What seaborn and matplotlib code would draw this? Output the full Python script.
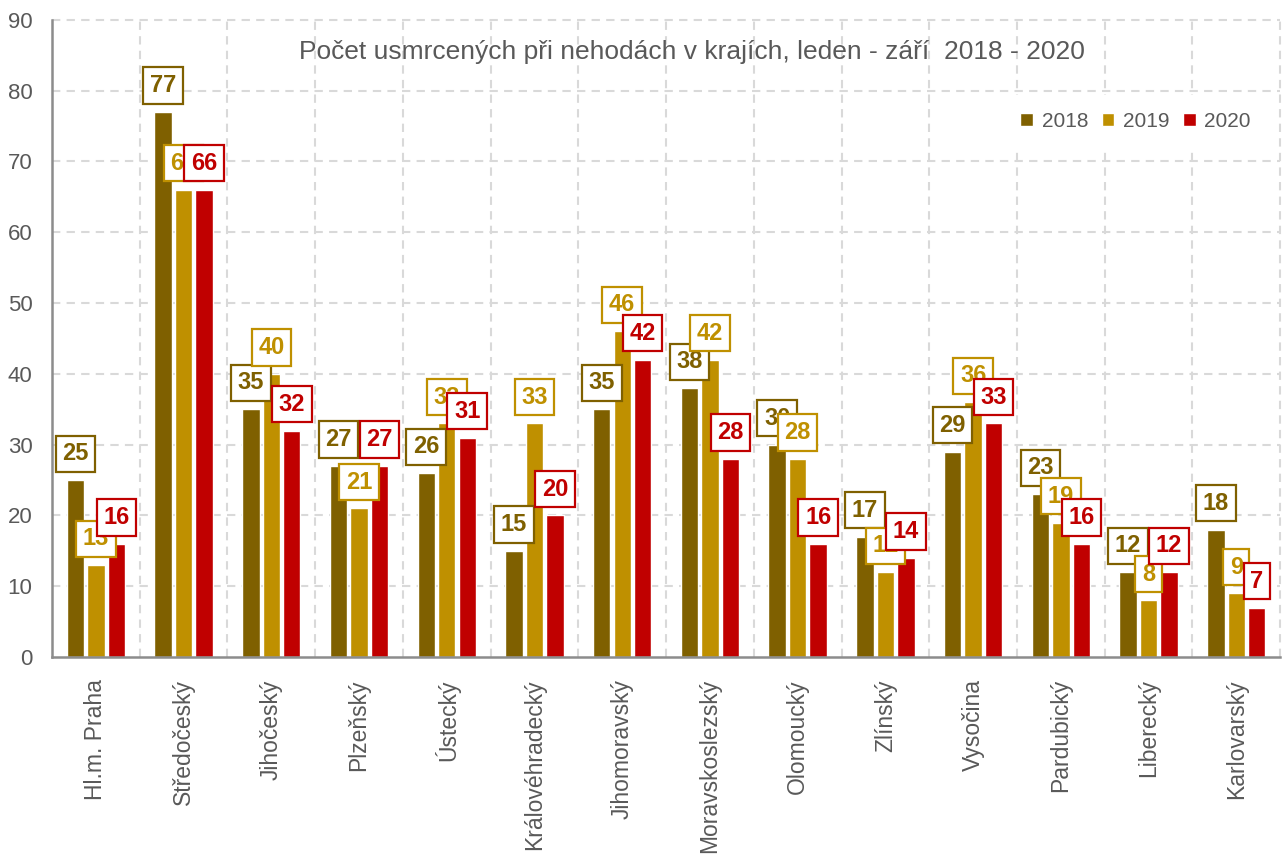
import matplotlib
matplotlib.use("Agg")
import matplotlib.pyplot as plt
import seaborn as sns
import pandas as pd
from matplotlib import font_manager

regions = ["Hl.m. Praha", "Středočeský", "Jihočeský", "Plzeňský", "Ústecký",
           "Královéhradecký", "Jihomoravský", "Moravskoslezský", "Olomoucký",
           "Zlínský", "Vysočina", "Pardubický", "Liberecký", "Karlovarský"]
years = ["2018", "2019", "2020"]
v2018 = [25, 77, 35, 27, 26, 15, 35, 38, 30, 17, 29, 23, 12, 18]
v2019 = [13, 66, 40, 21, 33, 33, 46, 42, 28, 12, 36, 19, 8, 9]
v2020 = [16, 66, 32, 27, 31, 20, 42, 28, 16, 14, 33, 16, 12, 7]
colors = ["#7F6000", "#BF9000", "#C00000"]
title = "Počet usmrcených při nehodách v krajích, leden - září  2018 - 2020"

df = pd.DataFrame({
    "kraj": regions * 3,
    "rok": [years[0]] * 14 + [years[1]] * 14 + [years[2]] * 14,
    "pocet": v2018 + v2019 + v2020,
})

sns.set_theme(style="white")
avail = {f.name for f in font_manager.fontManager.ttflist}
narrow = "Liberation Sans Narrow" if "Liberation Sans Narrow" in avail else "Liberation Sans"
plt.rcParams["font.family"] = [narrow, "DejaVu Sans"]

txt = "#595959"
fig = plt.figure(figsize=(12.84, 8.59), dpi=100)
ax = fig.add_axes([0.0405, 0.235, 0.9565, 0.742])

sns.barplot(data=df, x="kraj", y="pocet", hue="rok", palette=colors,
            width=0.7, gap=0.15, ax=ax, zorder=2, saturation=1)

ax.set_ylim(0, 90)
ax.set_xlim(-0.5, 13.5)
ax.set_yticks(range(0, 91, 10))
ax.set_xlabel("")
ax.set_ylabel("")

# grid
for y in range(10, 91, 10):
    ax.axhline(y, color="#D9D9D9", ls=(0, (4, 3)), lw=1.5, zorder=0, clip_on=False)
for x in [i + 0.5 for i in range(14)]:
    ax.axvline(x, color="#D9D9D9", ls=(0, (4, 3)), lw=1.5, zorder=0, clip_on=False)

for s in ["top", "right"]:
    ax.spines[s].set_visible(False)
for s in ["left", "bottom"]:
    ax.spines[s].set_color("#8C8C8C")
    ax.spines[s].set_linewidth(1.8)
    ax.spines[s].set_zorder(3)

ax.tick_params(axis="y", length=0, pad=14, labelsize=16, labelcolor=txt)
ax.tick_params(axis="x", length=0, pad=16, labelcolor=txt)
for lab in ax.get_yticklabels():
    lab.set_fontfamily([narrow, "DejaVu Sans"])
for lab in ax.get_xticklabels():
    lab.set_rotation(90)
    lab.set_fontfamily(["Liberation Sans", "DejaVu Sans"])
    lab.set_fontsize(16.5)
    lab.set_ha("center")
    lab.set_va("top")

# data labels
for k, cont in enumerate(ax.containers):
    for bar in cont:
        h = bar.get_height()
        xc = bar.get_x() + bar.get_width() / 2
        ax.annotate(f"{int(round(h))}", (xc, h), xytext=(0, 19),
                    textcoords="offset points", ha="center", va="center",
                    fontsize=17, fontweight="bold", color=colors[k],
                    fontfamily=[narrow, "DejaVu Sans"], zorder=5 + k,
                    bbox=dict(boxstyle="square,pad=0.28", fc="white",
                              ec=colors[k], lw=1.6))

# title
ax.text(0.521, 0.95, title, transform=ax.transAxes, ha="center", va="center",
        fontsize=19, color=txt, zorder=4)

# legend
handles, labels = ax.get_legend_handles_labels()
leg = ax.legend(handles, labels, loc="upper right", bbox_to_anchor=(0.998, 0.898),
                ncol=3, frameon=True, fancybox=False, fontsize=15,
                handlelength=0.62, handleheight=0.62, handletextpad=0.4,
                columnspacing=0.65, borderpad=0.8)
leg.get_frame().set_facecolor("white")
leg.get_frame().set_edgecolor("white")
leg.get_frame().set_alpha(1)
leg.set_zorder(10)
for t in leg.get_texts():
    t.set_color(txt)

fig.savefig("out.png", dpi=100, facecolor="white")
